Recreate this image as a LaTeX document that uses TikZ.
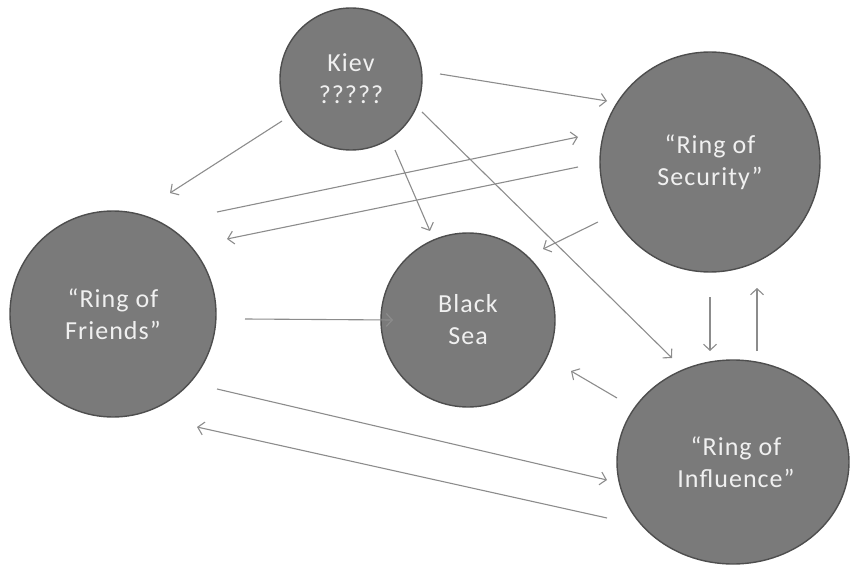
\documentclass[tikz,border=0pt]{standalone}
\usepackage{fontspec}
\setmainfont{Carlito}
\newfontfamily\ballfont[LetterSpace=4]{Carlito}
\usetikzlibrary{arrows.meta}
\definecolor{ballfill}{HTML}{7A7A7A}
\definecolor{balledge}{HTML}{4E4E4E}
\definecolor{arrowgray}{HTML}{8C8C8C}
\definecolor{textwhite}{HTML}{F0F0F0}
\begin{document}
\begin{tikzpicture}[x=1pt,y=-1pt,
  balltext/.style={text=textwhite, align=center, font=\ballfont\fontsize{26}{32}\selectfont},
  ball/.style={circle, draw=balledge, fill=ballfill, line width=1.4pt, inner sep=0pt, balltext},
  link/.style={draw=arrowgray, line width=1.1pt, -{Straight Barb[length=6pt,width=13pt,line width=1.1pt]}}]
\useasboundingbox (0,0) rectangle (854,572);
\node[ball, minimum size=142pt] (kiev) at (351,79) {Kiev\\?????};
\node[ball, minimum size=220pt] (security) at (710,162) {“Ring of\\Security”};
\node[ball, minimum size=206pt] (friends) at (113,314) {“Ring of\\Friends”};
\node[ball, minimum size=174pt] (sea) at (468,320) {Black\\Sea};
\draw[balledge, fill=ballfill, line width=1.4pt] (733,462) ellipse [x radius=116, y radius=102];
\node[balltext] (influence) at (736,462) {“Ring of\\Influence”};
% coordinates
\coordinate (a1) at (282,121); \coordinate (b1) at (170,193);
\coordinate (a2) at (395,150); \coordinate (b2) at (430,231);
\coordinate (a3) at (440,74);  \coordinate (b3) at (607,101);
\coordinate (a4) at (422,112); \coordinate (b4) at (672,358);
\coordinate (a5) at (217,212); \coordinate (b5) at (578,137);
\coordinate (a6) at (578,167); \coordinate (b6) at (227,239);
\coordinate (a7) at (598,222); \coordinate (b7) at (543,249);
\coordinate (a8) at (245,319); \coordinate (b8) at (393,320);
\coordinate (a9) at (710,297); \coordinate (b9) at (710,351);
\coordinate (a10) at (757,351); \coordinate (b10) at (757,288);
\coordinate (a11) at (617,398); \coordinate (b11) at (571,371);
\coordinate (a12) at (217,389); \coordinate (b12) at (607,480);
\coordinate (a13) at (607,518); \coordinate (b13) at (197,427);
\foreach \i in {1,...,13} {\draw[link] (a\i) -- (b\i);}
\end{tikzpicture}
\end{document}
